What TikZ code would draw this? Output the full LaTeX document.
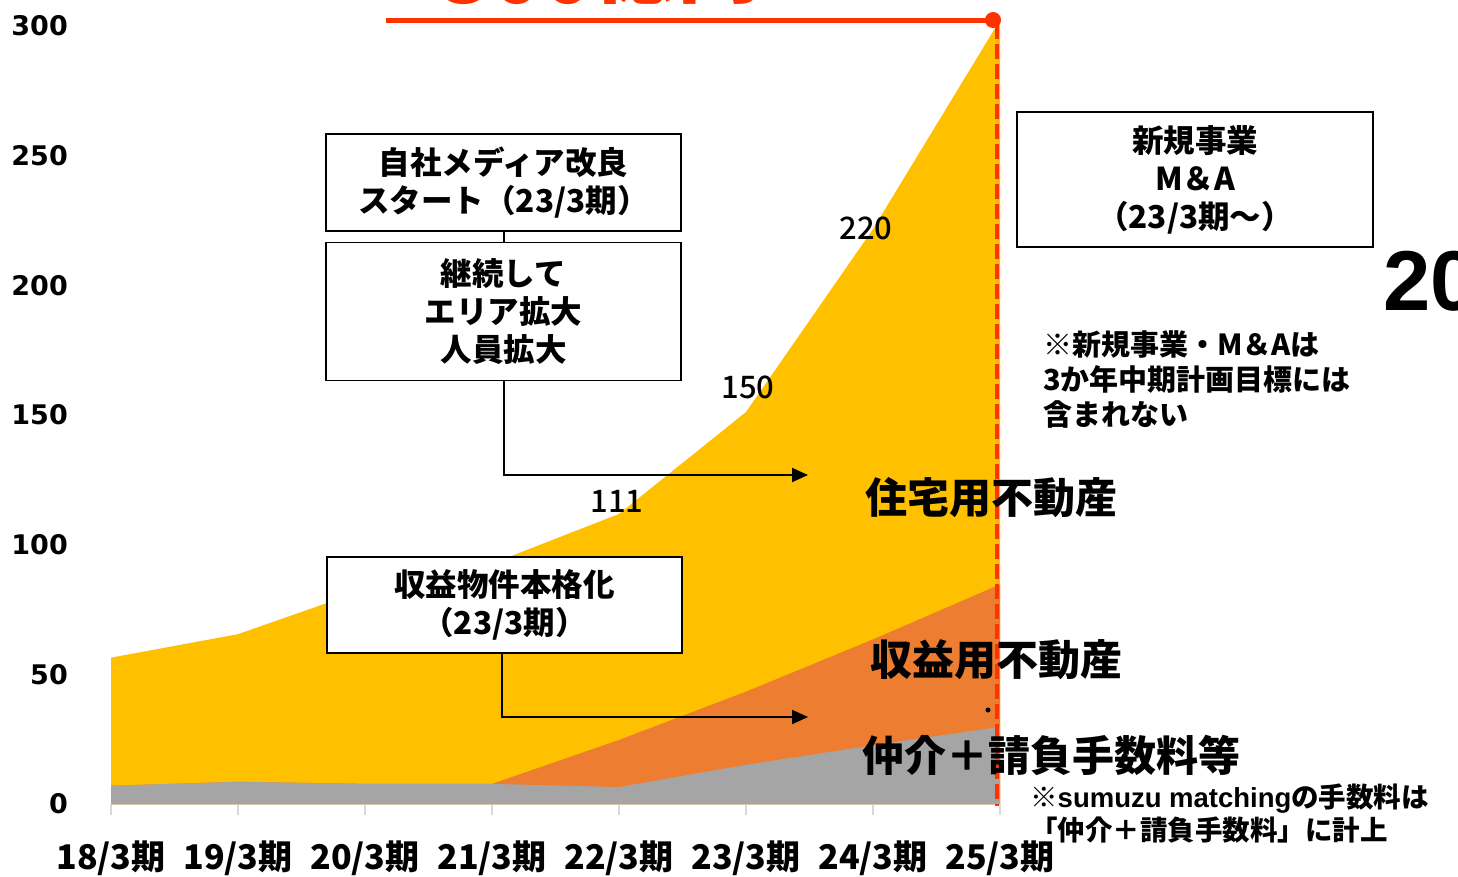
\documentclass[tikz,border=0pt]{standalone}
\usepackage{fontspec}
\setmainfont{Noto Sans CJK JP}
\newfontfamily\jpmed{Noto Sans CJK JP Medium}
\newfontfamily\numfont{DejaVu Sans}
\newfontfamily\latfont{Liberation Sans}
\usepackage{tikz}
\usetikzlibrary{positioning}
\usetikzlibrary{arrows.meta}
\definecolor{housing}{HTML}{FFC000}
\definecolor{income}{HTML}{ED7D31}
\definecolor{fee}{HTML}{A5A5A5}
\definecolor{goalred}{HTML}{FF3300}
\definecolor{axisgray}{HTML}{D9D9D9}
\tikzstyle{memo}=[draw=black, line width=1.5pt, fill=white, align=center, inner sep=0pt, minimum width=355pt, font=\bfseries\fontsize{31.5}{38}\selectfont]
\tikzstyle{val}=[inner sep=0pt, font=\jpmed\fontsize{31}{31}\selectfont]
\tikzstyle{seg}=[anchor=west, inner sep=0pt, font=\bfseries\fontsize{42}{42}\selectfont]
\tikzstyle{link}=[line width=2pt]
\tikzstyle{link>}=[line width=2pt, -{Triangle[length=16pt,width=14pt]}]

\begin{document}
\begin{tikzpicture}[x=1pt,y=-1pt]
\useasboundingbox (0,0) rectangle (1458,876);
\begin{scope}
\clip (0,0) rectangle (1458,876);
\foreach \i/\t/\o/\g in {0/56/7/7,1/65/8.5/8.5,2/82/7.7/7.7,3/92/7.7/7.7,4/111/24.5/6.5,5/150/43/15,6/220/63/22.5,7/300/84/29.5} {
	\coordinate (t\i) at (111+127*\i,804-2.6133*\t);
	\coordinate (o\i) at (111+127*\i,804-2.6133*\o);
	\coordinate (g\i) at (111+127*\i,804-2.6133*\g);
	\coordinate (b\i) at (111+127*\i,804);
	\draw[axisgray, line width=1.5pt] (b\i) -- ++(0,11);
}
\draw[axisgray, line width=1.5pt] (b0) -- (b7);
\fill[housing] (b0) -- (t0) -- (t1) -- (t2) -- (t3) -- (t4) -- (t5) -- (t6) -- (t7) -- (b7) -- cycle;
\fill[income] (b0) -- (o0) -- (o1) -- (o2) -- (o3) -- (o4) -- (o5) -- (o6) -- (o7) -- (b7) -- cycle;
\fill[fee] (b0) -- (g0) -- (g1) -- (g2) -- (g3) -- (g4) -- (g5) -- (g6) -- (g7) -- (b7) -- cycle;

\foreach \v in {0,50,...,300} {
	\node[anchor=east, inner sep=0pt, font=\numfont\bfseries\fontsize{27}{27}\selectfont] at (68,804-2.5933*\v) {\v};
}
\foreach \i/\y in {0/18,1/19,2/20,3/21,4/22,5/23,6/24,7/25} {
	\node[inner sep=0pt, font=\bfseries\fontsize{34}{34}\selectfont] at (111+127*\i,858) {\y/3期};
}

\coordinate (goal) at (993,20);
\draw[goalred, line width=5pt] (386,20) -- (goal);
\fill[goalred] (goal) circle (8);
\draw[goalred, line width=4pt, dash pattern=on 15pt off 5pt] (997,24) -- (997,806);
\node[anchor=base west, inner sep=0pt, text=goalred, font=\bfseries\fontsize{84}{84}\selectfont] (goaltext) at (440,3.5) {300\raisebox{7pt}{億円}};
\node[anchor=west, inner sep=0pt, font=\latfont\bfseries\fontsize{85}{85}\selectfont] (year) at (1383,281) {20};

\node[val] (v111) at (617,501) {111};
\node[val] (v150) at (748,387) {150};
\node[val] (v220) at (866,228) {220};

\node[memo, minimum height=97pt] (media) at (503.5,182.5) {自社メディア改良\\スタート（23/3期）};
\node[memo, minimum height=138pt, below=10pt of media] (area) {継続して\\エリア拡大\\人員拡大};
\node[memo, minimum height=96pt] (income) at (504.5,605) {収益物件本格化\\（23/3期）};
\node[memo, minimum width=356pt, minimum height=135pt] (newbiz) at (1195,179.5) {新規事業\\M＆A\\（23/3期～）};

\coordinate (tip1) at (808,475);
\coordinate (tip2) at (808,717);
\draw[link] (media.south) -- (area.north);
\draw[link>] (area.south) |- (tip1);
\draw[link>] ([xshift=-3pt]income.south) |- (tip2);

\node[seg] (house) at (865,498) {住宅用不動産};
\node[seg] (rent) at (870,660) {収益用不動産};
\node[seg] (fees) at (862,755) {仲介＋請負手数料等};
\fill (988,710) circle (2.5);

\node[anchor=north west, align=left, inner sep=0pt, font=\bfseries\fontsize{29}{35}\selectfont] (excl) at (1043,330) {※新規事業・M＆Aは\\3か年中期計画目標には\\含まれない};
\node[anchor=north west, align=left, inner sep=0pt, font=\bfseries\fontsize{27.5}{33}\selectfont] (sumuzu) at (1030,784) {※{\latfont\bfseries sumuzu matching}の手数料は\\「仲介＋請負手数料」に計上};
\end{scope}
\end{tikzpicture}
\end{document}
